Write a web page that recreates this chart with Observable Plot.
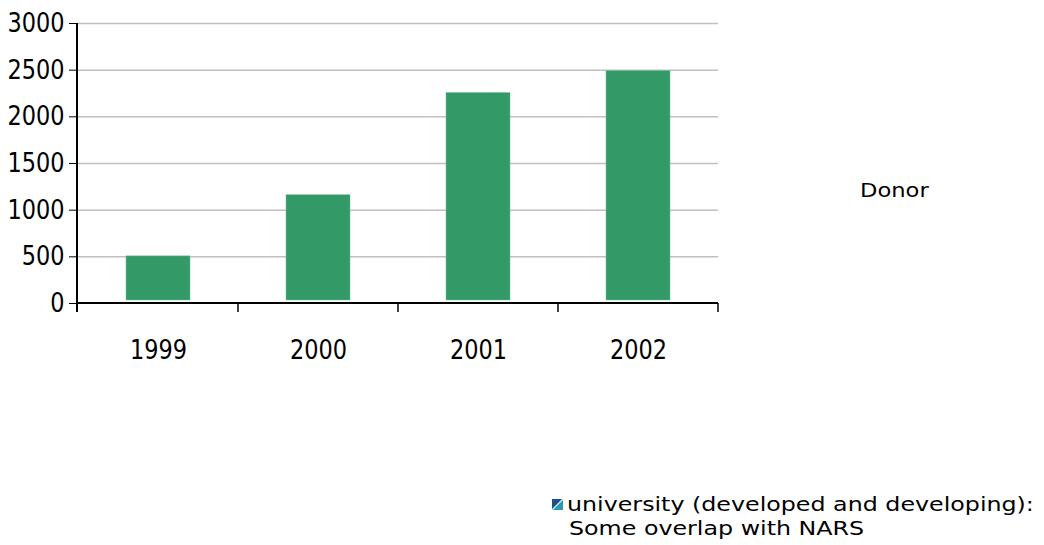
<!DOCTYPE html>
<html>
<head>
<meta charset="utf-8">
<script src="https://cdn.jsdelivr.net/npm/d3@7"></script>
<script src="https://cdn.jsdelivr.net/npm/@observablehq/plot@0.6"></script>
<style>
  html, body { margin: 0; padding: 0; background: #fff; }
  #wrap { position: relative; width: 1044px; height: 545px; overflow: hidden; }
  #chart { position: absolute; left: 0; top: 0; }
  #donor { position: absolute; left: 860px; top: 178px; font-family: "DejaVu Sans", sans-serif; font-size: 20px; color: #000; transform: scaleX(1.13); transform-origin: left center; }
  #legend { position: absolute; left: 552px; top: 492px; font-family: "DejaVu Sans", sans-serif; font-size: 19px; line-height: 24px; color: #000; }
  #legend .row { display: flex; align-items: center; }
  #legend .sw { width: 11px; height: 11px; margin-right: 4px; flex: none; }
  #legend .t { display: inline-block; transform: scaleX(1.25); transform-origin: left center; white-space: nowrap; }
  #legend .l2 { padding-left: 17px; }
</style>
</head>
<body>
<div id="wrap">
  <div id="chart"></div>
  <div id="donor">Donor</div>
  <div id="legend"></div>
</div>
<script>
const years = ["1999", "2000", "2001", "2002"];
const values = [505, 1160, 2255, 2490];
const yTicks = [0, 500, 1000, 1500, 2000, 2500, 3000];
const seriesName = "university (developed and developing):";
const seriesName2 = "Some overlap with NARS";
const barColor = "#339966";

const data = years.map((y, i) => ({year: y, value: values[i]}));

const plot = Plot.plot({
  width: 740,
  height: 380,
  marginLeft: 77,
  marginRight: 22,
  marginTop: 23,
  marginBottom: 77,
  style: {background: "#fff", overflow: "visible", fontFamily: "DejaVu Sans, sans-serif"},
  x: {domain: years, paddingInner: 0.6, paddingOuter: 0.3, label: null},
  y: {domain: [0, 3000], label: null},
  marks: [
    Plot.gridY(yTicks.filter(d => d > 0), {stroke: "#c0c0c0", strokeOpacity: 1, strokeWidth: 1.5}),
    Plot.barY(data, {x: "year", y: "value", fill: barColor, stroke: "#6fbf96", strokeWidth: 0.5, insetBottom: 3}),
    Plot.axisY({ticks: yTicks, tickSize: 8, tickPadding: 5, fontSize: 27, tickFormat: d => String(d)}),
    Plot.axisX({tickSize: 0, tickPadding: 36, fontSize: 27})
  ]
});
document.getElementById("chart").appendChild(plot);

const svg = d3.select(plot);
// narrow the tick-label digits horizontally around their anchor
svg.selectAll("g[aria-label='y-axis tick label'] text, g[aria-label='x-axis tick label'] text")
  .each(function() {
    const t = this.getAttribute("transform") || "";
    this.setAttribute("transform", (t + " scale(0.83,1)").trim());
  });

// axis lines and boundary ticks, from the library's scales
const sx = plot.scale("x"), sy = plot.scale("y");
const [x0, x1] = sx.range;
const y0 = sy.apply(0), yTop = sy.apply(3000);
const step = sx.apply(years[1]) - sx.apply(years[0]);
const g = svg.append("g").attr("stroke", "#000");
g.append("line").attr("x1", x0).attr("x2", x1).attr("y1", y0).attr("y2", y0).attr("stroke-width", 2);
g.append("line").attr("x1", x0).attr("x2", x0).attr("y1", yTop).attr("y2", y0 + 9).attr("stroke-width", 2);
const bounds = years.map(y => sx.apply(y) + sx.bandwidth / 2 + step / 2);
g.selectAll("line.bt").data(bounds).join("line").attr("class", "bt")
  .attr("x1", d => d).attr("x2", d => d).attr("y1", y0).attr("y2", y0 + 9).attr("stroke-width", 1.5);

// legend
const leg = document.getElementById("legend");
leg.innerHTML = `<div class="row"><svg class="sw" viewBox="0 0 11 11"><defs><linearGradient id="lg" x1="0" y1="0" x2="1" y2="1"><stop offset="0" stop-color="#1f4f8f"/><stop offset="0.42" stop-color="#1f4f8f"/><stop offset="0.5" stop-color="#d8ecf2"/><stop offset="0.58" stop-color="#2a9ab0"/><stop offset="1" stop-color="#2a9ab0"/></linearGradient></defs><rect width="11" height="11" fill="url(#lg)"/></svg><span class="t">${seriesName}</span></div><div class="l2"><span class="t">${seriesName2}</span></div>`;
</script>
</body>
</html>
